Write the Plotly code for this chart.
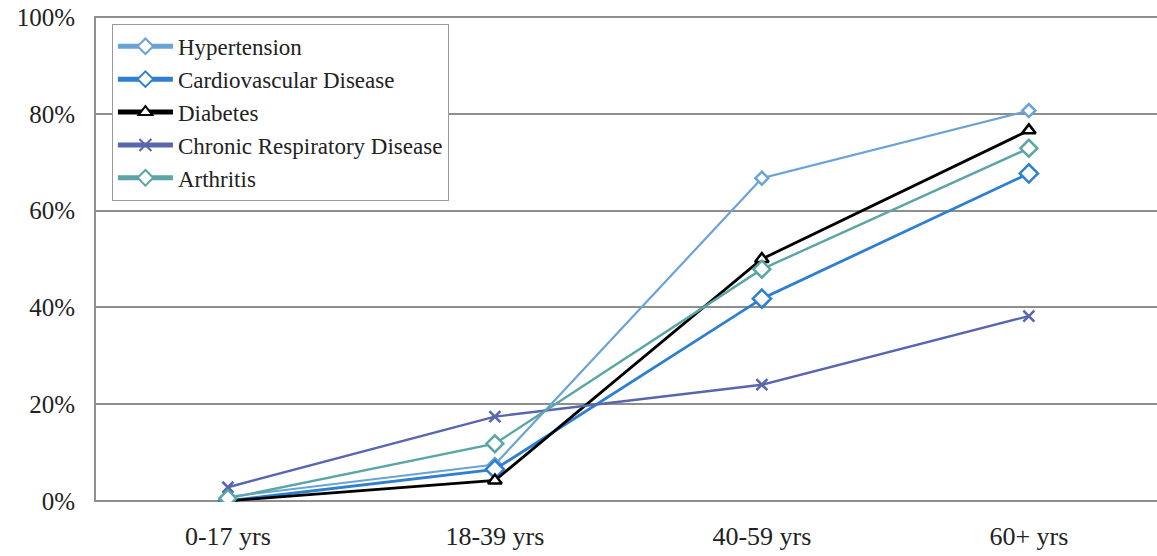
import plotly.graph_objects as go

categories = ["0-17 yrs", "18-39 yrs", "40-59 yrs", "60+ yrs"]
hypertension = [0.8, 7.5, 66.7, 80.7]
cardiovascular = [0.0, 6.5, 41.8, 67.7]
diabetes = [0.0, 4.2, 50.0, 76.6]
respiratory = [2.8, 17.4, 24.0, 38.2]
arthritis = [0.5, 11.8, 47.9, 72.9]
y_ticks = [0, 20, 40, 60, 80, 100]
y_tick_labels = ["0%", "20%", "40%", "60%", "80%", "100%"]

xpos = list(range(len(categories)))

series = [
    ("Hypertension", hypertension, "#6aa3d6", "diamond", 10, 2.2),
    ("Cardiovascular Disease", cardiovascular, "#2f7fd0", "diamond", 14, 2.8),
    ("Diabetes", diabetes, "#000000", "triangle-up", 12, 2.8),
    ("Chronic Respiratory Disease", respiratory, "#5866ad", "x-thin", 11, 2.4),
    ("Arthritis", arthritis, "#5aa5a6", "diamond", 13, 2.4),
]

SERIF = "Times New Roman, Liberation Serif, DejaVu Serif, serif"

fig = go.Figure()
for name, vals, color, sym, size, lw in series:
    fill = color if sym == "x-thin" else "white"
    fig.add_trace(go.Scatter(
        x=xpos, y=vals, name=name, mode="lines+markers",
        line=dict(color=color, width=lw),
        marker=dict(symbol=sym, size=size, color=fill,
                    line=dict(color=color, width=2.5)),
    ))

fig.update_layout(
    width=1157, height=556,
    margin=dict(l=96, r=0, t=16, b=54),
    paper_bgcolor="white", plot_bgcolor="white",
    font=dict(family=SERIF, size=24, color="#222222"),
    showlegend=True,
    legend=dict(x=0.015, y=0.984, xanchor="left", yanchor="top",
                bordercolor="#9a9a9a", borderwidth=1, bgcolor="white",
                font=dict(family=SERIF, size=23, color="#222222"),
                tracegroupgap=0, itemsizing="constant", itemwidth=55),
)
fig.update_xaxes(
    tickmode="array", tickvals=xpos, ticktext=categories,
    tickfont=dict(family=SERIF, size=26),
    range=[-0.494, 3.48], showgrid=False, zeroline=False,
    showline=False, ticks="", ticklabelstandoff=16,
)
fig.update_yaxes(
    tickmode="array", tickvals=y_ticks, ticktext=y_tick_labels,
    tickfont=dict(family=SERIF, size=25),
    range=[-0.25, 100.25], showgrid=True, gridcolor="#8e8e8e", gridwidth=2,
    zeroline=False, showline=True, linecolor="#8e8e8e", linewidth=2,
    ticks="", ticklabelstandoff=14,
)
fig.write_html("out.html")
